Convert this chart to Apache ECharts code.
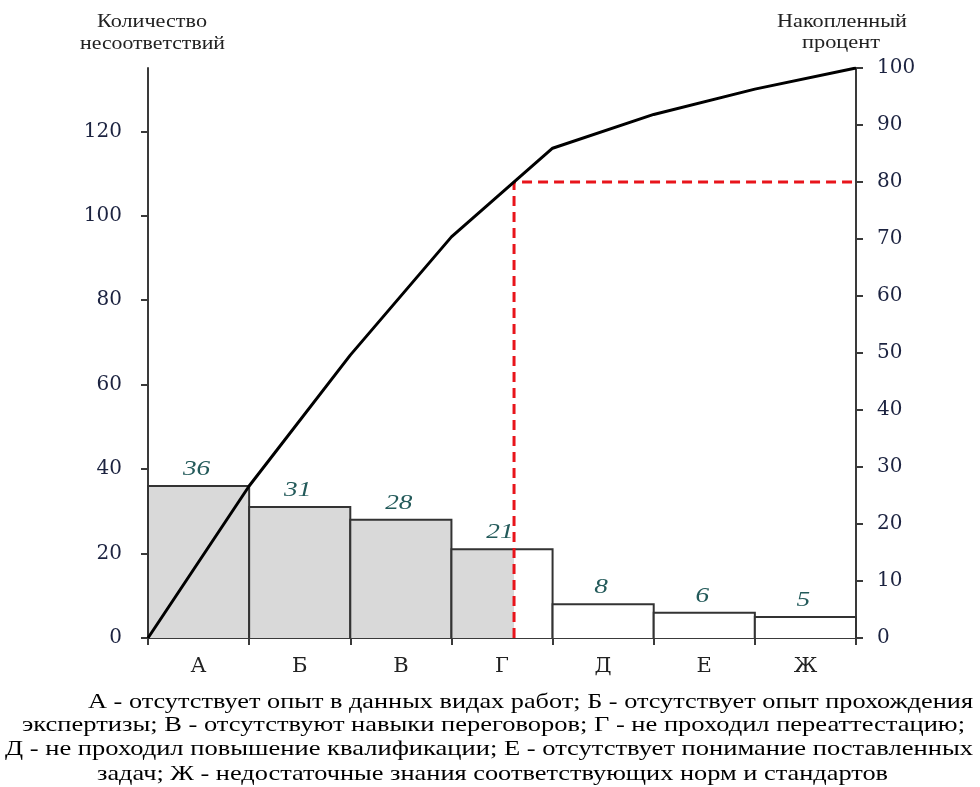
<!DOCTYPE html>
<html><head><meta charset="utf-8">
<script src="https://cdn.jsdelivr.net/npm/echarts@6/dist/echarts.min.js"></script>
<style>html,body{margin:0;padding:0;background:#fff}#c{width:980px;height:787px}</style>
</head><body><div id="c"></div>
<script>
const categories = ['А','Б','В','Г','Д','Е','Ж'];
const counts = [36, 31, 28, 21, 8, 6, 5];
const leftTicks = [0, 20, 40, 60, 80, 100, 120];
const rightTicks = [0,10,20,30,40,50,60,70,80,90,100];
const cutoffPercent = 80;
const leftTitle = ['Количество', 'несоответствий'];
const rightTitle = ['Накопленный', 'процент'];
const captionLines = [
  'А - отсутствует опыт в данных видах работ; Б - отсутствует опыт прохождения',
  'экспертизы; В - отсутствуют навыки переговоров; Г - не проходил переаттестацию;',
  'Д - не проходил повышение квалификации; Е - отсутствует понимание поставленных',
  'задач; Ж - недостаточные знания соответствующих норм и стандартов'
];

const total = counts.reduce((a,b)=>a+b,0);
const cum = [0];
counts.forEach(v=>cum.push(cum[cum.length-1]+v));
const cumPoints = cum.map((v,i)=>[i,v]);
const cutVal = total*cutoffPercent/100;
let cutX = 0;
for (let i=0;i<counts.length;i++){
  if (cum[i+1]>=cutVal){ cutX = i + (cutVal-cum[i])/(cum[i+1]-cum[i]); break; }
}
const SERIF = '"DejaVu Serif", "Liberation Serif", serif';
const TIMES = '"Liberation Serif", serif';
const axisColor = '#3a3a3a';
const labelColor = '#1c2340';

const mctx = document.createElement('canvas').getContext('2d');
function measure(text, font){ mctx.font = font; return mctx.measureText(text).width; }
function fitText(text, left, right, y, font, fill){
  const w = measure(text, font);
  const sx = (right-left)/w;
  return {type:'text', x:(left+right)/2, y:y, scaleX:sx,
    style:{text:text, x:0, y:0, font:font, fill:fill, align:'center', verticalAlign:'middle'}};
}

const titleFont = '19px '+TIMES;
const capFont = '21px '+TIMES;

const chart = echarts.init(document.getElementById('c'), null, {renderer:'canvas'});
chart.setOption({
  animation:false,
  backgroundColor:'#fff',
  grid:{left:148, right:124, top:68, bottom:149},
  xAxis:[
    {type:'category', data:categories, boundaryGap:true,
     axisLine:{lineStyle:{color:axisColor,width:2}},
     axisTick:{show:true,length:7,lineStyle:{color:axisColor,width:2}},
     axisLabel:{fontFamily:SERIF,fontSize:21,color:'#222',margin:18},
     splitLine:{show:false}},
    {type:'value', min:0, max:categories.length, show:false}
  ],
  yAxis:[
    {type:'value', min:0, max:total, interval:20, position:'left',
     axisLine:{show:true,lineStyle:{color:axisColor,width:2}},
     axisTick:{show:true,inside:false,length:7,lineStyle:{color:axisColor,width:2}},
     axisLabel:{fontFamily:SERIF,fontSize:20,color:labelColor,margin:26,showMaxLabel:false,
       formatter:v=>leftTicks.includes(v)?String(v):''},
     splitLine:{show:false}},
    {type:'value', min:0, max:100, interval:10, position:'right',
     axisLine:{show:true,lineStyle:{color:axisColor,width:2}},
     axisTick:{show:true,length:7,lineStyle:{color:axisColor,width:2}},
     axisLabel:{fontFamily:SERIF,fontSize:20,color:labelColor,margin:21,
       formatter:v=>rightTicks.includes(v)?String(v):''},
     splitLine:{show:false}}
  ],
  series:[
    {type:'custom', xAxisIndex:0, yAxisIndex:0,
     data:counts.map((v,i)=>[i,v]),
     renderItem:function(params, api){
       const i = api.value(0), v = api.value(1);
       const c = api.coord([i, v]);
       const base = api.coord([i, 0]);
       const w = api.size([1,0])[0];
       const x0 = c[0]-w/2, x1 = c[0]+w/2;
       const children = [];
       children.push({type:'rect', shape:{x:x0,y:c[1],width:w,height:base[1]-c[1]},
         style:{fill:'#fff',stroke:'none'}});
       if (i < cutX){
         const frac = Math.min(1, cutX - i);
         children.push({type:'rect', shape:{x:x0,y:c[1],width:w*frac,height:base[1]-c[1]},
           style:{fill:'#d9d9d9',stroke:'none'}});
       }
       children.push({type:'polyline', shape:{points:[[x0,base[1]],[x0,c[1]],[x1,c[1]],[x1,base[1]]]},
         style:{fill:'none',stroke:'#333',lineWidth:2}});
       children.push({type:'text', x:c[0]-2, y:c[1]-6, scaleX:1.3,
         style:{text:String(v), x:0, y:0, align:'center', verticalAlign:'bottom',
         font:'italic 21px '+TIMES, fill:'#235a5a'}});
       return {type:'group', children};
     }, z:1},
    {type:'line', xAxisIndex:1, yAxisIndex:0, data:cumPoints, symbol:'none',
     lineStyle:{color:'#000',width:3}, z:5},
    {type:'line', xAxisIndex:1, yAxisIndex:0, data:[[cutX,0],[cutX,cutVal],[categories.length,cutVal]],
     symbol:'none', lineStyle:{color:'#e8141b',width:3,type:[10,6]}, z:4}
  ],
  graphic:[
    fitText(leftTitle[0], 97, 207, 22, titleFont, '#222'),
    fitText(leftTitle[1], 80, 225, 44, titleFont, '#222'),
    fitText(rightTitle[0], 777, 907, 22, titleFont, '#222'),
    fitText(rightTitle[1], 802, 880, 43, titleFont, '#222'),
    fitText(captionLines[0], 88, 973, 702, capFont, '#000'),
    fitText(captionLines[1], 22, 965, 725, capFont, '#000'),
    fitText(captionLines[2], 5, 973, 749, capFont, '#000'),
    fitText(captionLines[3], 97, 888, 774, capFont, '#000')
  ]
});
</script></body></html>
